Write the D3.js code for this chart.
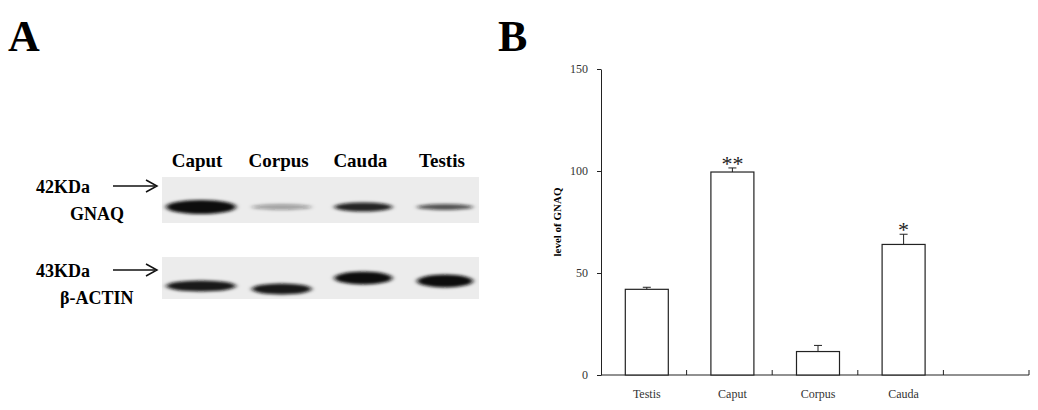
<!DOCTYPE html>
<html>
<head>
<meta charset="utf-8">
<script src="https://cdn.jsdelivr.net/npm/d3@7"></script>
<style>
  body { margin: 0; background: #fff; }
  text { font-family: "Liberation Serif", "DejaVu Serif", serif; }
</style>
</head>
<body>
<div id="chart"></div>
<script>
// Panel A: western blot lanes and band appearance
const lanes = ["Caput", "Corpus", "Cauda", "Testis"];
const gnaqDarkness = [1.0, 0.35, 0.9, 0.7];
const gnaqThickness = [14, 6, 9, 6];
const actinDarkness = [0.95, 0.95, 1.0, 1.0];
const actinThickness = [11, 11, 13, 13];
const actinOffset = [2, 5, -6, -3];

// Panel B: bar chart values
const categories = ["Testis", "Caput", "Corpus", "Cauda"];
const values = [42, 99.5, 11.5, 64];
const errors = [1, 2, 3, 5];
const stars = ["", "**", "", "*"];
const yTicks = [0, 50, 100, 150];

const svg = d3.select("#chart").append("svg")
    .attr("width", 1038)
    .attr("height", 410);

const defs = svg.append("defs");
defs.append("filter").attr("id", "blur")
    .attr("x", "-30%").attr("y", "-100%").attr("width", "160%").attr("height", "300%")
  .append("feGaussianBlur").attr("stdDeviation", "2.5 1.5");

// Panel letters
svg.append("text").attr("x", 8).attr("y", 51)
    .style("font-size", "44px").style("font-weight", "bold").text("A");
svg.append("text").attr("x", 498).attr("y", 51)
    .style("font-size", "44px").style("font-weight", "bold").text("B");

// ---------- Panel A ----------
const laneX = d3.scalePoint().domain(lanes).range([200, 445]);
const laneW = [70, 60, 58, 56];

svg.selectAll(".lane-label")
  .data(lanes)
  .join("text")
    .attr("class", "lane-label")
    .attr("x", d => laneX(d) - 3)
    .attr("y", 167)
    .attr("text-anchor", "middle")
    .style("font-size", "19px")
    .style("font-weight", "bold")
    .text(d => d);

const blots = [
  { top: 177, h: 46, cy: 207, dark: gnaqDarkness, thick: gnaqThickness, off: [0, 0, 0, 0],
    kda: "42KDa", name: "GNAQ", nameX: 70, kdaY: 193, nameY: 220 },
  { top: 257, h: 42, cy: 284, dark: actinDarkness, thick: actinThickness, off: actinOffset,
    kda: "43KDa", name: "β-ACTIN", nameX: 60, kdaY: 277, nameY: 304 }
];

blots.forEach(b => {
  svg.append("rect")
      .attr("x", 162).attr("y", b.top)
      .attr("width", 317).attr("height", b.h)
      .attr("fill", "#ececec");

  svg.append("g").attr("filter", "url(#blur)")
    .selectAll("ellipse")
    .data(lanes)
    .join("ellipse")
      .attr("cx", (d, i) => laneX(d) + (i === 0 ? 1 : 0))
      .attr("cy", (d, i) => b.cy + b.off[i])
      .attr("rx", (d, i) => laneW[i] / 2)
      .attr("ry", (d, i) => b.thick[i] / 2)
      .attr("fill", "#111")
      .attr("fill-opacity", (d, i) => b.dark[i]);

  svg.append("text").attr("x", 36).attr("y", b.kdaY)
      .style("font-size", "18px").style("font-weight", "bold").text(b.kda);
  svg.append("line")
      .attr("x1", 113).attr("x2", 155)
      .attr("y1", b.kdaY - 7).attr("y2", b.kdaY - 7)
      .attr("stroke", "#111").attr("stroke-width", 1.5);
  svg.append("path")
      .attr("d", `M146,${b.kdaY - 13} L157,${b.kdaY - 7} L146,${b.kdaY - 1}`)
      .attr("fill", "none").attr("stroke", "#111").attr("stroke-width", 1.5);
  svg.append("text").attr("x", b.nameX).attr("y", b.nameY)
      .style("font-size", "18px").style("font-weight", "bold").text(b.name);
});

// ---------- Panel B ----------
const x = d3.scaleBand()
    .domain([...categories, ""])
    .range([601, 1029])
    .paddingInner(0)
    .paddingOuter(0);

const y = d3.scaleLinear().domain([0, 150]).range([375, 69]);

const gB = svg.append("g").style("font-family", "'Liberation Serif', serif");

// y axis
gB.append("g")
    .attr("transform", "translate(601,0)")
    .call(d3.axisLeft(y).tickValues(yTicks).tickSize(4).tickSizeOuter(0))
    .call(g => g.select(".domain").attr("stroke", "#222"))
    .call(g => g.selectAll(".tick line").attr("stroke", "#222"))
    .call(g => g.selectAll(".tick text")
        .attr("fill", "#333").style("font-size", "12px")
        .style("font-family", "'Liberation Serif', serif").attr("dx", "-6"));

// x axis: ticks at band boundaries
gB.append("line")
    .attr("x1", 601).attr("x2", 1029).attr("y1", 375).attr("y2", 375)
    .attr("stroke", "#222");
const bounds = x.domain().slice(1).map(d => x(d)).concat([x.range()[1]]);
gB.selectAll(".xtick")
  .data(bounds)
  .join("line")
    .attr("x1", d => d).attr("x2", d => d)
    .attr("y1", 375).attr("y2", 370)
    .attr("stroke", "#222");

gB.selectAll(".xlabel")
  .data(categories)
  .join("text")
    .attr("x", d => x(d) + x.bandwidth() / 2 + 3)
    .attr("y", 398)
    .attr("text-anchor", "middle")
    .attr("fill", "#333")
    .style("font-size", "12px")
    .text(d => d);

const barW = 43;
const barX = d => x(d) + x.bandwidth() / 2 + 3 - barW / 2;

// error bars (upper only)
gB.selectAll(".err")
  .data(categories)
  .join("path")
    .attr("d", (d, i) => {
      const cx = barX(d) + barW / 2;
      const top = y(values[i] + errors[i]);
      return `M${cx},${y(values[i])}V${top}M${cx - 4},${top}H${cx + 4}`;
    })
    .attr("stroke", "#222").attr("fill", "none");

gB.selectAll(".bar")
  .data(categories)
  .join("rect")
    .attr("x", barX)
    .attr("y", (d, i) => y(values[i]))
    .attr("width", barW)
    .attr("height", (d, i) => y(0) - y(values[i]))
    .attr("fill", "#fff")
    .attr("stroke", "#222")
    .attr("stroke-width", 1.2);

gB.selectAll(".star")
  .data(categories)
  .join("text")
    .attr("x", d => barX(d) + barW / 2)
    .attr("y", (d, i) => y(values[i] + errors[i]) + 3)
    .attr("text-anchor", "middle")
    .style("font-size", "22px")
    .attr("fill", "#222")
    .text((d, i) => stars[i]);

gB.append("text")
    .attr("transform", "translate(561,222) rotate(-90)")
    .attr("text-anchor", "middle")
    .style("font-size", "11px")
    .style("font-weight", "bold")
    .text("level of GNAQ");
</script>
</body>
</html>
